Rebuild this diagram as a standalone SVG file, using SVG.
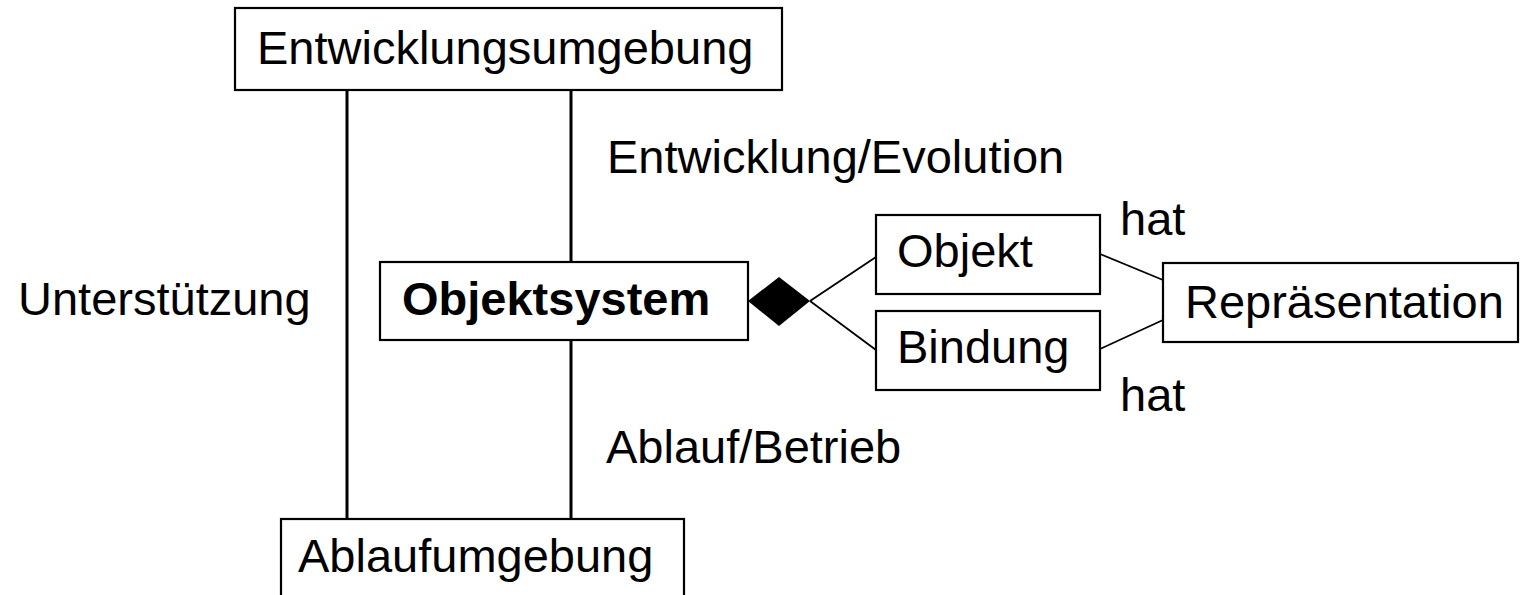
<svg xmlns="http://www.w3.org/2000/svg" width="1532" height="595" viewBox="0 0 1532 595">
  <style>
    .box { fill: #fff; stroke: #000; stroke-width: 2.2; }
    .lbl { font-family: "Liberation Sans", Arial, sans-serif; font-size: 47px; fill: #000; }
    .bold { font-weight: bold; }
    .v { stroke: #000; stroke-width: 3; fill: none; }
    .s { stroke: #000; stroke-width: 1.8; fill: none; }
  </style>
  <rect width="1532" height="595" fill="#fff"/>

  <g id="connectors">
    <line class="v" x1="347" y1="90" x2="347" y2="519"/>
    <line class="v" x1="571" y1="90" x2="571" y2="262"/>
    <line class="v" x1="571" y1="340" x2="571" y2="519"/>
    <line class="s" x1="810" y1="301" x2="876" y2="257"/>
    <line class="s" x1="810" y1="301" x2="876" y2="350"/>
    <line class="s" x1="1100" y1="254" x2="1163" y2="280"/>
    <line class="s" x1="1100" y1="349" x2="1163" y2="320"/>
    <polygon points="748,301 779,277 810,301 779,326" fill="#000"/>
  </g>

  <g id="labels">
    <text class="lbl" x="607" y="173">Entwicklung/Evolution</text>
    <text class="lbl" x="18" y="315">Unterstützung</text>
    <text class="lbl" x="606" y="463">Ablauf/Betrieb</text>
    <text class="lbl" x="1120" y="235">hat</text>
    <text class="lbl" x="1120" y="411">hat</text>
  </g>

  <g id="entwicklungsumgebung">
    <rect class="box" x="235" y="8" width="547" height="82"/>
    <text class="lbl" x="257" y="64">Entwicklungsumgebung</text>
  </g>

  <g id="objektsystem">
    <rect class="box" x="380" y="262" width="368" height="78"/>
    <text class="lbl bold" x="402" y="315">Objektsystem</text>
  </g>

  <g id="objekt">
    <rect class="box" x="876" y="215" width="224" height="79"/>
    <text class="lbl" x="897" y="267">Objekt</text>
  </g>

  <g id="bindung">
    <rect class="box" x="876" y="311" width="224" height="79"/>
    <text class="lbl" x="897" y="363">Bindung</text>
  </g>

  <g id="repraesentation">
    <rect class="box" x="1163" y="263" width="355" height="79"/>
    <text class="lbl" x="1185" y="318">Repräsentation</text>
  </g>

  <g id="ablaufumgebung">
    <rect class="box" x="281" y="519" width="403" height="90"/>
    <text class="lbl" x="298" y="572">Ablaufumgebung</text>
  </g>
</svg>
